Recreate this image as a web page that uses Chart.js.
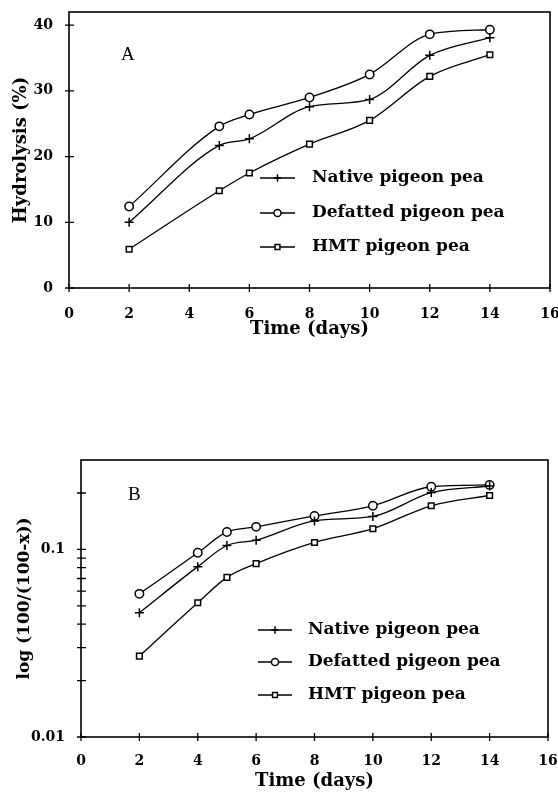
<!DOCTYPE html>
<html>
<head>
<meta charset="utf-8">
<script src="https://cdn.jsdelivr.net/npm/chart.js@4.4.0/dist/chart.umd.min.js"></script>
<style>
  body { margin: 0; background: #fff; width: 558px; height: 792px; position: relative; overflow: hidden; }
  canvas { position: absolute; left: 0; }
  #chartA { top: 0; }
  #chartB { top: 440px; }
</style>
</head>
<body>
<canvas id="chartA" width="558" height="340"></canvas>
<canvas id="chartB" width="558" height="352"></canvas>
<script>
// series names
var seriesNames = ['Native pigeon pea', 'Defatted pigeon pea', 'HMT pigeon pea'];

// panel A: hydrolysis (%)
var daysA = [2, 5, 6, 8, 10, 12, 14];
var nativeA = [10.0, 21.7, 22.7, 27.6, 28.7, 35.4, 38.1];
var defattedA = [12.4, 24.6, 26.4, 29.0, 32.5, 38.6, 39.3];
var hmtA = [5.9, 14.8, 17.5, 21.9, 25.5, 32.2, 35.5];

// panel B: log(100/(100-x))
var daysB = [2, 4, 5, 6, 8, 10, 12, 14];
var nativeB = [0.046, 0.081, 0.105, 0.112, 0.142, 0.150, 0.201, 0.218];
var defattedB = [0.058, 0.096, 0.124, 0.132, 0.151, 0.171, 0.216, 0.221];
var hmtB = [0.027, 0.052, 0.071, 0.084, 0.109, 0.129, 0.171, 0.194];

// ticks
var xTicks = [0, 2, 4, 6, 8, 10, 12, 14, 16];
var yTicksA = [0, 10, 20, 30, 40];
var yTicksB = [0.01, 0.02, 0.03, 0.04, 0.05, 0.06, 0.07, 0.08, 0.09, 0.1, 0.2, 0.3];
var yLabelsB = ['0.01', '0.1'];

var serif = 'DejaVu Serif';
Chart.defaults.font.family = serif;
Chart.defaults.color = '#000';

function pts(xs, ys) {
  return xs.map(function (x, i) { return { x: x, y: ys[i] }; });
}

function makeSets(xs, a, b, c) {
  var styles = ['cross', 'circle', 'rect'];
  var radii = [4.5, 4.2, 4];
  return [a, b, c].map(function (vals, i) {
    return {
      label: seriesNames[i],
      data: pts(xs, vals),
      borderColor: '#000',
      borderWidth: 1.3,
      cubicInterpolationMode: 'monotone',
      pointStyle: styles[i],
      pointRadius: radii[i],
      pointBackgroundColor: '#fff',
      pointBorderColor: '#000',
      pointBorderWidth: 1.5
    };
  });
}

// draws the box, the crossing tick marks and the panel letter
var frameTicks = {
  id: 'frameTicks',
  afterDraw: function (chart, args, opts) {
    var a = chart.chartArea, ctx = chart.ctx;
    var xs = chart.scales.x, ys = chart.scales.y;
    ctx.save();
    ctx.strokeStyle = '#000';
    ctx.lineWidth = 1.6;
    ctx.strokeRect(a.left, a.top, a.right - a.left, a.bottom - a.top);
    ctx.lineWidth = 1.3;
    ctx.beginPath();
    xs.ticks.forEach(function (t) {
      var px = xs.getPixelForValue(t.value);
      ctx.moveTo(px, a.bottom - 4); ctx.lineTo(px, a.bottom + 4);
    });
    ys.ticks.forEach(function (t) {
      var py = ys.getPixelForValue(t.value);
      if (py < a.top + 2) return;
      ctx.moveTo(a.left - 4, py); ctx.lineTo(a.left + 5, py);
    });
    ctx.stroke();
    ctx.fillStyle = '#000';
    ctx.font = '19px "Liberation Serif"';
    ctx.textBaseline = 'middle';
    ctx.fillText(opts.letter, opts.lx, opts.ly);
    ctx.restore();
  }
};

// legend drawn inside the plot
var insideLegend = {
  id: 'insideLegend',
  afterDraw: function (chart, args, opts) {
    var ctx = chart.ctx;
    ctx.save();
    chart.data.datasets.forEach(function (ds, i) {
      var y = opts.rows[i];
      ctx.strokeStyle = '#000';
      ctx.lineWidth = 1.3;
      ctx.beginPath();
      ctx.moveTo(opts.x0, y); ctx.lineTo(opts.x1, y);
      ctx.stroke();
      ctx.fillStyle = '#fff';
      ctx.lineWidth = 1.5;
      Chart.helpers.drawPoint(ctx, { pointStyle: ds.pointStyle, radius: ds.pointRadius * 0.85, borderWidth: 1.5 }, (opts.x0 + opts.x1) / 2, y);
      ctx.fillStyle = '#000';
      ctx.font = 'bold 17px "' + serif + '"';
      ctx.textBaseline = 'middle';
      ctx.fillText(ds.label, opts.tx, y);
    });
    ctx.restore();
  }
};

function xScale(height, labelPad) {
  return {
    type: 'linear', min: 0, max: 16,
    grid: { display: false }, border: { display: false },
    afterBuildTicks: function (s) { s.ticks = xTicks.map(function (v) { return { value: v }; }); },
    afterFit: function (s) { s.height = height; s.paddingLeft = 0; s.paddingRight = 0; },
    ticks: { padding: labelPad, font: { size: 14, weight: 'bold' }, callback: function (v) { return String(v); } },
    title: { display: true, text: 'Time (days)', padding: 0, font: { size: 18, weight: 'bold' } }
  };
}

new Chart(document.getElementById('chartA'), {
  type: 'line',
  data: { datasets: makeSets(daysA, nativeA, defattedA, hmtA) },
  options: {
    responsive: false, animation: false,
    layout: { padding: { left: 0, right: 8, top: 12, bottom: 0 } },
    scales: {
      x: xScale(52, 10),
      y: {
        type: 'linear', min: 0, max: 42,
        grid: { display: false }, border: { display: false },
        afterBuildTicks: function (s) { s.ticks = yTicksA.map(function (v) { return { value: v }; }); },
        afterFit: function (s) { s.width = 69; s.paddingTop = 0; s.paddingBottom = 0; },
        ticks: { padding: 8, font: { size: 14, weight: 'bold' }, callback: function (v) { return String(v); } },
        title: { display: true, text: 'Hydrolysis (%)', padding: { top: 11, bottom: 0 }, font: { size: 18, weight: 'bold' } }
      }
    },
    plugins: {
      legend: { display: false }, tooltip: { enabled: false },
      frameTicks: { letter: 'A', lx: 121, ly: 55 },
      insideLegend: { x0: 260, x1: 295, tx: 312, rows: [178, 213, 247] }
    }
  },
  plugins: [frameTicks, insideLegend]
});

new Chart(document.getElementById('chartB'), {
  type: 'line',
  data: { datasets: makeSets(daysB, nativeB, defattedB, hmtB) },
  options: {
    responsive: false, animation: false,
    layout: { padding: { left: 0, right: 10, top: 20, bottom: 0 } },
    scales: {
      x: xScale(55, 8),
      y: {
        type: 'logarithmic', min: 0.01, max: 0.3,
        grid: { display: false }, border: { display: false },
        afterBuildTicks: function (s) { s.ticks = yTicksB.map(function (v) { return { value: v }; }); },
        afterFit: function (s) { s.width = 81; s.paddingTop = 0; s.paddingBottom = 0; },
        ticks: {
          padding: 8, autoSkip: false, font: { size: 14, weight: 'bold' },
          callback: function (v) {
            if (v === 0.01) return yLabelsB[0];
            if (v === 0.1) return yLabelsB[1];
            return '';
          }
        },
        title: { display: true, text: 'log (100/(100-x))', padding: { top: 14, bottom: 0 }, font: { size: 17, weight: 'bold' } }
      }
    },
    plugins: {
      legend: { display: false }, tooltip: { enabled: false },
      frameTicks: { letter: 'B', lx: 128, ly: 55 },
      insideLegend: { x0: 258, x1: 292, tx: 308, rows: [190, 222, 255] }
    }
  },
  plugins: [frameTicks, insideLegend]
});
</script>
</body>
</html>
